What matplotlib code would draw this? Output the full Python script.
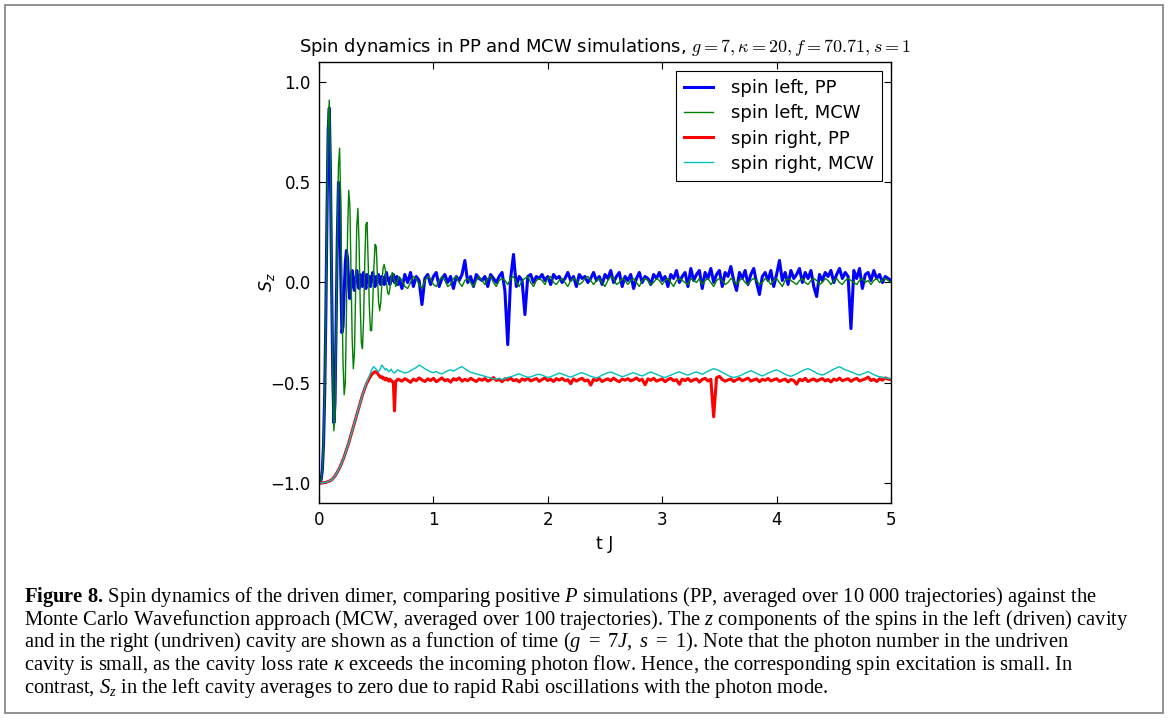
import numpy as np
import matplotlib
matplotlib.use("Agg")
import matplotlib.pyplot as plt
import matplotlib.patches as patches

# time grid: fine steps during the Rabi burst, coarser afterwards
t_early = np.round(np.arange(70) * 0.01, 3)
t_late = np.round(0.70 + np.arange(173) * 0.025, 3)

# spin left, PP (t = 0.00 .. 0.69)
left_pp_early = [
    -1.00, -1.00, -0.98, -0.93, -0.80, -0.55, -0.15, 0.35, 0.76, 0.87,
    0.56, 0.02, -0.45, -0.70, -0.60, -0.20, 0.22, 0.50, 0.46, 0.05,
    -0.25, -0.22, -0.05, 0.10, 0.16, 0.12, -0.02, -0.08, 0.03, 0.06,
    -0.02, -0.04, 0.02, 0.06, 0.01, -0.03, 0.04, 0.03, -0.02, 0.05,
    0.02, -0.03, 0.04, 0.00, 0.03, -0.02, 0.02, 0.05, 0.01, -0.02,
    0.03, 0.00, 0.04, 0.01, -0.01, 0.03, 0.02, -0.01, 0.03, 0.05,
    0.01, 0.02, -0.01, 0.03, 0.01, 0.04, 0.00, 0.02, 0.03, -0.01,
]
# spin left, MCW
left_mcw_early = [
    -1.00, -1.00, -0.98, -0.93, -0.80, -0.55, -0.15, 0.35, 0.78, 0.91,
    0.62, 0.05, -0.45, -0.74, -0.66, -0.25, 0.20, 0.58, 0.67, 0.40,
    -0.05, -0.40, -0.56, -0.50, -0.15, 0.25, 0.46, 0.38, 0.05, -0.28,
    -0.43, -0.35, -0.05, 0.28, 0.37, 0.20, -0.10, -0.30, -0.33, -0.18,
    0.10, 0.29, 0.30, 0.10, -0.12, -0.24, -0.24, -0.10, 0.08, 0.19,
    0.18, 0.05, -0.09, -0.14, -0.10, 0.00, 0.07, 0.09, 0.06, 0.00,
    -0.05, -0.06, -0.03, 0.02, 0.05, 0.04, 0.01, -0.02, -0.01, 0.02,
]
# spin right, PP
right_pp_early = [
    -1.000, -1.000, -1.000, -1.000, -0.999, -0.998, -0.997, -0.995, -0.993, -0.991,
    -0.988, -0.984, -0.979, -0.972, -0.965, -0.956, -0.946, -0.936, -0.925, -0.912,
    -0.898, -0.884, -0.869, -0.852, -0.835, -0.818, -0.800, -0.780, -0.760, -0.740,
    -0.720, -0.700, -0.680, -0.660, -0.640, -0.620, -0.600, -0.580, -0.561, -0.545,
    -0.528, -0.513, -0.500, -0.489, -0.478, -0.469, -0.460, -0.453, -0.448, -0.445,
    -0.447, -0.452, -0.460, -0.468, -0.474, -0.470, -0.480, -0.476, -0.486, -0.478,
    -0.484, -0.492, -0.482, -0.488, -0.494, -0.500, -0.640, -0.492, -0.488, -0.482,
]
# spin right, MCW
right_mcw_early = [
    -1.000, -1.000, -1.000, -1.000, -0.999, -0.998, -0.997, -0.995, -0.993, -0.991,
    -0.988, -0.984, -0.979, -0.972, -0.965, -0.956, -0.946, -0.936, -0.925, -0.912,
    -0.898, -0.884, -0.869, -0.852, -0.835, -0.818, -0.800, -0.780, -0.760, -0.740,
    -0.720, -0.700, -0.680, -0.660, -0.640, -0.620, -0.600, -0.580, -0.561, -0.545,
    -0.526, -0.510, -0.495, -0.480, -0.465, -0.450, -0.436, -0.425, -0.420, -0.428,
    -0.432, -0.440, -0.445, -0.438, -0.425, -0.412, -0.420, -0.428, -0.436, -0.430,
    -0.438, -0.445, -0.440, -0.432, -0.442, -0.448, -0.452, -0.446, -0.440, -0.435,
]

# t = 0.700 .. 5.000
left_pp_late = [
    0.02, -0.03, 0.04, 0.00, 0.05, -0.02, 0.03, 0.01, -0.11, 0.02,
    0.04, -0.01, 0.03, 0.05, -0.02, 0.02, 0.04, 0.00, 0.03, -0.03,
    0.03, 0.01, 0.04, 0.11, 0.00, 0.03, -0.02, 0.04, 0.02, 0.01,
    0.03, -0.02, 0.04, 0.02, 0.00, 0.03, 0.05, -0.04, -0.31, 0.02,
    0.14, -0.02, 0.03, 0.01, -0.16, 0.03, 0.04, 0.00, 0.03, 0.02,
    0.04, 0.01, 0.03, -0.01, 0.04, 0.02, 0.03, 0.00, 0.02, 0.05,
    0.01, 0.03, -0.02, 0.04, 0.02, 0.03, 0.00, 0.02, 0.05, 0.01,
    0.03, -0.01, 0.04, 0.02, 0.06, 0.00, 0.03, 0.05, -0.02, 0.03,
    0.01, 0.04, -0.03, 0.02, 0.05, 0.00, 0.03, 0.02, -0.01, 0.04,
    0.02, 0.05, 0.01, 0.03, -0.02, 0.04, 0.02, 0.06, 0.00, 0.03,
    0.05, -0.02, 0.07, 0.01, 0.04, 0.06, -0.03, 0.05, 0.02, 0.07,
    0.00, 0.04, 0.06, -0.02, 0.05, 0.03, 0.08, 0.01, -0.04, 0.05,
    0.02, 0.06, -0.01, 0.04, 0.07, 0.00, -0.06, 0.03, 0.05, 0.01,
    0.06, -0.02, 0.04, 0.11, 0.01, 0.05, -0.01, 0.06, 0.02, 0.04,
    0.07, 0.00, 0.05, 0.02, 0.06, -0.02, -0.07, 0.04, 0.01, 0.05,
    0.03, 0.06, 0.00, 0.04, 0.07, 0.02, 0.05, 0.03, -0.23, 0.06,
    0.02, 0.07, -0.03, 0.04, 0.05, 0.01, 0.06, 0.02, 0.04, 0.00, 0.03, 0.02, 0.01,
]
left_mcw_late = [
    0.03, 0.01, -0.02, -0.03, 0.00, 0.03, 0.02, -0.01, -0.03, 0.01,
    0.03, 0.02, -0.01, -0.02, 0.01, 0.03, 0.01, -0.02, -0.01, 0.02,
    0.03, 0.00, -0.02, 0.01, 0.02, 0.00, -0.02, 0.01, 0.03, 0.01,
    -0.01, 0.02, 0.03, 0.00, -0.02, 0.01, 0.02, 0.01, -0.01, 0.02,
    0.03, 0.00, -0.02, 0.01, 0.02, 0.03, 0.00, -0.02, 0.01, 0.02,
    0.01, -0.01, 0.02, 0.03, 0.00, -0.01, 0.01, 0.02, 0.00, -0.02,
    0.01, 0.02, 0.01, -0.01, 0.00, 0.02, 0.03, 0.01, -0.01, 0.01,
    0.02, 0.00, -0.02, 0.01, 0.03, 0.02, -0.01, 0.00, 0.02, 0.01,
    -0.01, 0.01, 0.02, 0.00, -0.02, 0.01, 0.02, 0.01, -0.01, 0.00,
    0.02, 0.01, -0.01, 0.01, 0.02, 0.00, -0.02, 0.01, 0.02, 0.01,
    0.00, -0.01, 0.02, 0.01, 0.00, 0.02, -0.01, 0.01, 0.02, 0.00,
    -0.02, 0.01, 0.02, 0.01, -0.01, 0.00, 0.02, 0.01, -0.01, 0.01,
    0.02, 0.00, -0.01, 0.01, 0.02, 0.01, -0.01, 0.00, 0.02, 0.01,
    -0.01, 0.01, 0.02, 0.00, -0.02, 0.01, 0.02, 0.01, 0.00, -0.01,
    0.01, 0.02, 0.00, -0.01, 0.01, 0.02, 0.01, -0.01, 0.00, 0.02,
    0.01, -0.01, 0.01, 0.02, 0.00, -0.01, 0.01, 0.02, 0.01, 0.00,
    -0.01, 0.01, 0.02, 0.00, 0.01, -0.01, 0.01, 0.02, 0.00, 0.01, 0.02, 0.01, 0.00,
]
right_pp_late = [
    -0.485, -0.492, -0.480, -0.488, -0.498, -0.482, -0.490, -0.476, -0.486, -0.494,
    -0.481, -0.489, -0.478, -0.495, -0.485, -0.476, -0.490, -0.484, -0.497, -0.480,
    -0.487, -0.476, -0.492, -0.483, -0.490, -0.478, -0.486, -0.494, -0.481, -0.488,
    -0.479, -0.492, -0.485, -0.474, -0.489, -0.483, -0.495, -0.480, -0.487, -0.477,
    -0.490, -0.484, -0.496, -0.481, -0.488, -0.477, -0.491, -0.485, -0.479, -0.493,
    -0.484, -0.476, -0.489, -0.482, -0.494, -0.480, -0.487, -0.478, -0.490, -0.485,
    -0.505, -0.481, -0.492, -0.484, -0.478, -0.491, -0.486, -0.512, -0.483, -0.489,
    -0.479, -0.494, -0.486, -0.481, -0.490, -0.477, -0.488, -0.495, -0.482, -0.487,
    -0.480, -0.491, -0.485, -0.476, -0.489, -0.483, -0.510, -0.481, -0.488, -0.478,
    -0.492, -0.486, -0.481, -0.495, -0.484, -0.478, -0.490, -0.485, -0.508, -0.482,
    -0.489, -0.479, -0.493, -0.486, -0.481, -0.497, -0.484, -0.478, -0.491, -0.483,
    -0.670, -0.475, -0.468, -0.484, -0.492, -0.486, -0.481, -0.494, -0.485, -0.479,
    -0.490, -0.484, -0.477, -0.492, -0.486, -0.481, -0.495, -0.483, -0.488, -0.479,
    -0.491, -0.485, -0.480, -0.493, -0.487, -0.482, -0.496, -0.484, -0.489, -0.507,
    -0.483, -0.490, -0.478, -0.494, -0.486, -0.481, -0.492, -0.485, -0.479, -0.491,
    -0.484, -0.496, -0.482, -0.488, -0.477, -0.490, -0.485, -0.480, -0.493, -0.484,
    -0.478, -0.491, -0.486, -0.481, -0.472, -0.489, -0.483, -0.494, -0.480, -0.487, -0.476, -0.482, -0.485,
]
right_mcw_late = [
    -0.440, -0.446, -0.452, -0.448, -0.440, -0.432, -0.424, -0.412, -0.420, -0.430,
    -0.438, -0.446, -0.450, -0.444, -0.452, -0.456, -0.448, -0.440, -0.436, -0.442,
    -0.434, -0.426, -0.420, -0.430, -0.440, -0.448, -0.452, -0.456, -0.460, -0.464,
    -0.468, -0.472, -0.476, -0.480, -0.482, -0.478, -0.484, -0.480, -0.474, -0.470,
    -0.466, -0.460, -0.456, -0.462, -0.468, -0.474, -0.470, -0.466, -0.460, -0.458,
    -0.462, -0.468, -0.474, -0.470, -0.464, -0.458, -0.452, -0.456, -0.462, -0.468,
    -0.472, -0.466, -0.460, -0.454, -0.450, -0.456, -0.462, -0.468, -0.472, -0.476,
    -0.470, -0.462, -0.456, -0.450, -0.446, -0.452, -0.458, -0.464, -0.470, -0.466,
    -0.460, -0.454, -0.450, -0.456, -0.462, -0.466, -0.460, -0.452, -0.446, -0.452,
    -0.458, -0.464, -0.470, -0.474, -0.468, -0.462, -0.456, -0.450, -0.446, -0.452,
    -0.458, -0.462, -0.456, -0.450, -0.446, -0.452, -0.458, -0.450, -0.442, -0.436,
    -0.430, -0.434, -0.440, -0.448, -0.456, -0.464, -0.470, -0.474, -0.470, -0.466,
    -0.460, -0.452, -0.446, -0.440, -0.446, -0.454, -0.460, -0.466, -0.460, -0.452,
    -0.446, -0.440, -0.436, -0.442, -0.450, -0.458, -0.464, -0.468, -0.462, -0.456,
    -0.448, -0.440, -0.434, -0.430, -0.436, -0.444, -0.452, -0.458, -0.462, -0.456,
    -0.448, -0.440, -0.432, -0.426, -0.420, -0.428, -0.436, -0.440, -0.446, -0.452,
    -0.458, -0.462, -0.456, -0.450, -0.444, -0.452, -0.460, -0.466, -0.470, -0.472, -0.476, -0.478, -0.480,
]

labels = ["spin left, PP", "spin left, MCW", "spin right, PP", "spin right, MCW"]
colors = ["b", "g", "r", "c"]
widths = [2.2, 1.0, 2.2, 1.0]

caption_lines = [
    r"$\mathbf{Figure\ 8.}\,$Spin dynamics of the driven dimer, comparing positive $P$ simulations (PP, averaged over 10 000 trajectories) against the",
    r"Monte Carlo Wavefunction approach (MCW, averaged over 100 trajectories). The $z$ components of the spins in the left (driven) cavity",
    r"and in the right (undriven) cavity are shown as a function of time ($g\ =\ 7J,\ s\ =\ 1$). Note that the photon number in the undriven",
    r"cavity is small, as the cavity loss rate $\kappa$ exceeds the incoming photon flow. Hence, the corresponding spin excitation is small. In",
    r"contrast, $S_z$ in the left cavity averages to zero due to rapid Rabi oscillations with the photon mode.",
]

plt.rcParams["mathtext.rm"] = "Liberation Serif"
plt.rcParams["mathtext.it"] = "Liberation Serif:italic"
plt.rcParams["mathtext.bf"] = "Liberation Serif:bold"

t = np.concatenate([t_early, t_late])
series = [
    np.concatenate([left_pp_early, left_pp_late]),
    np.concatenate([left_mcw_early, left_mcw_late]),
    np.concatenate([right_pp_early, right_pp_late]),
    np.concatenate([right_mcw_early, right_mcw_late]),
]

W, H = 1168, 720
fig = plt.figure(figsize=(W / 100, H / 100), dpi=100)
ax = fig.add_axes([319 / W, 1 - 503 / H, 572 / W, 441 / H])

for y, lab, c, lw in zip(series, labels, colors, widths):
    ax.plot(t, y, color=c, lw=lw, label=lab)

ax.set_xlim(0, 5)
ax.set_ylim(-1.1, 1.1)
ax.set_xticks([0, 1, 2, 3, 4, 5])
ax.set_yticks([-1.0, -0.5, 0.0, 0.5, 1.0])
ax.tick_params(direction="in", top=True, right=True, length=5, width=0.8,
               labelsize=12, pad=6)
for sp in ax.spines.values():
    sp.set_linewidth(1.0)

ax.set_title(r"Spin dynamics in PP and MCW simulations, $g=7,\kappa=20,f=70.71,s=1$",
             fontsize=13, pad=7, math_fontfamily="cm")
ax.set_xlabel("t J", fontsize=12.5, labelpad=4)
ax.set_ylabel("$S_z$", fontsize=12.5, labelpad=-5, math_fontfamily="dejavusans")

leg = ax.legend(loc="upper right", fontsize=13, fancybox=False, framealpha=1,
                edgecolor="black", borderaxespad=0.5, handlelength=1.6,
                handletextpad=1.0, labelspacing=0.4, borderpad=0.45)
leg.get_frame().set_linewidth(0.8)

# caption below the chart
for i, line in enumerate(caption_lines):
    fig.text(24 / W, 1 - (602 + i * 22.7) / H, line, fontsize=14.8,
             family="Liberation Serif", math_fontfamily="custom",
             va="baseline", ha="left")

# thin frame round the whole figure
frame = patches.Rectangle((5 / W, 7 / H), 1158 / W, 708 / H, transform=fig.transFigure,
                          fill=False, edgecolor="0.5", lw=1.2)
fig.add_artist(frame)

fig.savefig("out.png", dpi=100)
